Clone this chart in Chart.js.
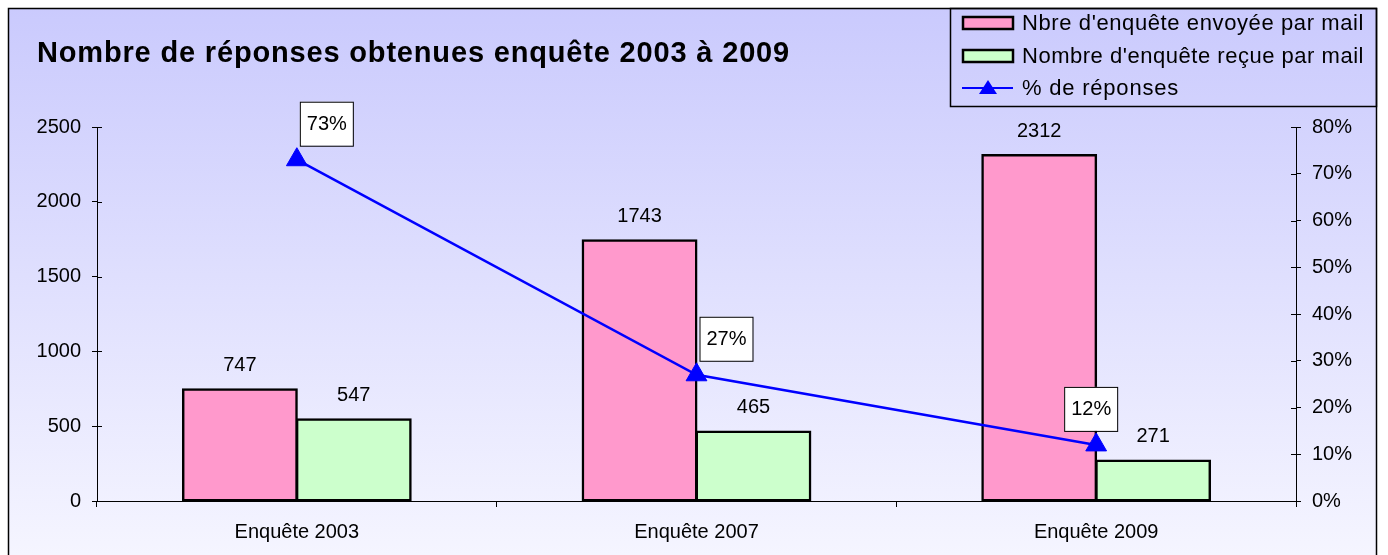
<!DOCTYPE html>
<html>
<head>
<meta charset="utf-8">
<script src="https://cdn.jsdelivr.net/npm/chart.js@4/dist/chart.umd.min.js"></script>
<style>
    body { margin: 0; background: #fff; }
    #wrap { width: 1388px; height: 555px; }
</style>
</head>
<body>
<div id="wrap"><canvas id="surveyChart" width="1388" height="555"></canvas></div>
<script>
// Chart data
const chartTitle = 'Nombre de réponses obtenues enquête 2003 à 2009';
const categories = ['Enquête 2003', 'Enquête 2007', 'Enquête 2009'];
const sentLabel = "Nbre d'enquête envoyée par mail";
const receivedLabel = "Nombre d'enquête reçue par mail";
const rateLabel = '% de réponses';
const sentByMail = [747, 1743, 2312];
const receivedByMail = [547, 465, 271];
const responseRate = [73, 27, 12];

const FONT = '"Liberation Sans", Arial, sans-serif';
Chart.defaults.font.family = FONT;
Chart.defaults.color = '#000';

// Draw text stretched a little with letter spacing, like the Excel export
function spacedText(ctx, text, x, y, spacing) {
    ctx.letterSpacing = spacing + 'px';
    ctx.fillText(text, x, y);
    ctx.letterSpacing = '0px';
}

// Background gradient, frame, title and legend box
const framePlugin = {
    id: 'frame',
    beforeDraw(chart) {
        const ctx = chart.ctx;
        ctx.save();
        ctx.fillStyle = '#fff';
        ctx.fillRect(0, 0, chart.width, chart.height);
        const grad = ctx.createLinearGradient(0, 8, 0, chart.height);
        grad.addColorStop(0, '#CACAFD');
        grad.addColorStop(1, '#F5F5FF');
        ctx.fillStyle = grad;
        ctx.fillRect(8, 8, 1369, chart.height);
        ctx.strokeStyle = '#000';
        ctx.lineWidth = 1.5;
        ctx.strokeRect(8.5, 8.5, 1368, chart.height + 10);

        // title
        ctx.fillStyle = '#000';
        ctx.font = 'bold 29px ' + FONT;
        ctx.textBaseline = 'alphabetic';
        ctx.textAlign = 'left';
        const w = ctx.measureText(chartTitle).width;
        spacedText(ctx, chartTitle, 37, 62, Math.max(0, (753 - w) / chartTitle.length));
        ctx.restore();
    },
    afterDraw(chart) {
        const ctx = chart.ctx;
        ctx.save();
        // legend box
        ctx.strokeStyle = '#000';
        ctx.lineWidth = 1.5;
        ctx.strokeRect(950.5, 8.5, 426, 98);

        const rows = [23, 56, 88];
        const sets = chart.data.datasets;
        ctx.font = '22px ' + FONT;
        ctx.textBaseline = 'middle';
        ctx.textAlign = 'left';
        ctx.fillStyle = '#000';
        [sets[1], sets[2], sets[0]].forEach((ds, i) => {
            const y = rows[i];
            if (ds.type === 'line') {
                ctx.strokeStyle = ds.borderColor;
                ctx.lineWidth = 2;
                ctx.beginPath();
                ctx.moveTo(962, y);
                ctx.lineTo(1013, y);
                ctx.stroke();
                ctx.fillStyle = ds.pointBackgroundColor;
                ctx.beginPath();
                ctx.moveTo(988, y - 8);
                ctx.lineTo(997, y + 6);
                ctx.lineTo(979, y + 6);
                ctx.closePath();
                ctx.fill();
            } else {
                ctx.fillStyle = ds.backgroundColor;
                ctx.fillRect(963, y - 6, 50, 12);
                ctx.strokeStyle = '#000';
                ctx.lineWidth = 2.5;
                ctx.strokeRect(963, y - 6, 50, 12);
            }
            ctx.fillStyle = '#000';
            const w = ctx.measureText(ds.label).width;
            const target = i === 2 ? 157 : 342;
            spacedText(ctx, ds.label, 1022, y + 1, Math.max(0, (target - w) / ds.label.length));
        });

        // inner half of the axis tick marks
        const y = chart.scales.y, y1 = chart.scales.y1;
        ctx.strokeStyle = '#000';
        ctx.lineWidth = 1;
        ctx.beginPath();
        y.ticks.forEach((t, i) => {
            const p = Math.round(y.getPixelForTick(i)) + 0.5;
            ctx.moveTo(y.right, p);
            ctx.lineTo(y.right + 5, p);
        });
        y1.ticks.forEach((t, i) => {
            const p = Math.round(y1.getPixelForTick(i)) + 0.5;
            ctx.moveTo(y1.left - 5, p);
            ctx.lineTo(y1.left, p);
        });
        ctx.stroke();
        ctx.restore();
    }
};

// Value labels above bars and boxed percentages on the line
const labelShift = [3, 3, -32];
const valueLabelPlugin = {
    id: 'valueLabels',
    afterDatasetsDraw(chart) {
        const ctx = chart.ctx;
        ctx.save();
        ctx.font = '20px ' + FONT;
        ctx.textAlign = 'center';
        ctx.textBaseline = 'middle';
        chart.data.datasets.forEach((ds, di) => {
            const meta = chart.getDatasetMeta(di);
            meta.data.forEach((el, i) => {
                if (ds.type === 'line') {
                    const left = el.x + labelShift[i];
                    const bottom = el.y - 14;
                    ctx.fillStyle = '#fff';
                    ctx.fillRect(left, bottom - 44, 53, 44);
                    ctx.strokeStyle = '#000';
                    ctx.lineWidth = 1;
                    ctx.strokeRect(left + 0.5, bottom - 43.5, 53, 44);
                    ctx.fillStyle = '#000';
                    ctx.fillText(ds.data[i] + '%', left + 27, bottom - 21);
                } else {
                    ctx.fillStyle = '#000';
                    ctx.fillText(String(ds.data[i]), el.x, el.y - 24);
                }
            });
        });
        ctx.restore();
    }
};

const tickFont = { size: 20 };

new Chart(document.getElementById('surveyChart'), {
    data: {
        labels: categories,
        datasets: [
            {
                type: 'line',
                label: rateLabel,
                data: responseRate,
                yAxisID: 'y1',
                borderColor: '#0000FF',
                borderWidth: 2.5,
                pointStyle: 'triangle',
                pointRadius: 12,
                pointBackgroundColor: '#0000FF',
                pointBorderColor: '#0000FF',
                pointBorderWidth: 1,
                tension: 0
            },
            {
                type: 'bar',
                label: sentLabel,
                data: sentByMail,
                yAxisID: 'y',
                backgroundColor: '#FF99CC',
                borderColor: '#000',
                borderWidth: 2.5,
                borderSkipped: false,
                inflateAmount: 1,
                categoryPercentage: 0.57,
                barPercentage: 1.0
            },
            {
                type: 'bar',
                label: receivedLabel,
                data: receivedByMail,
                yAxisID: 'y',
                backgroundColor: '#CCFFCC',
                borderColor: '#000',
                borderWidth: 2.5,
                borderSkipped: false,
                inflateAmount: 1,
                categoryPercentage: 0.57,
                barPercentage: 1.0
            }
        ]
    },
    options: {
        responsive: false,
        animation: false,
        layout: { padding: { top: 127, left: 0, right: 0, bottom: 0 } },
        plugins: {
            legend: { display: false },
            title: { display: false },
            tooltip: { enabled: false }
        },
        scales: {
            x: {
                afterFit: s => { s.height = 54; },
                grid: { drawOnChartArea: false, tickLength: 6, color: '#000', offset: true },
                border: { color: '#000', width: 1 },
                ticks: { font: tickFont, padding: 13, maxRotation: 0 }
            },
            y: {
                position: 'left',
                min: 0,
                max: 2500,
                afterFit: s => { s.width = 97; },
                ticks: { stepSize: 500, font: tickFont, padding: 11, callback: v => String(v) },
                grid: { drawOnChartArea: false, tickLength: 5, color: '#000' },
                border: { color: '#000', width: 1 }
            },
            y1: {
                position: 'right',
                min: 0,
                max: 80,
                afterFit: s => { s.width = 92; },
                ticks: { stepSize: 10, font: tickFont, padding: 11, callback: v => v + '%' },
                grid: { drawOnChartArea: false, tickLength: 5, color: '#000' },
                border: { color: '#000', width: 1 }
            }
        }
    },
    plugins: [framePlugin, valueLabelPlugin]
});
</script>
</body>
</html>
